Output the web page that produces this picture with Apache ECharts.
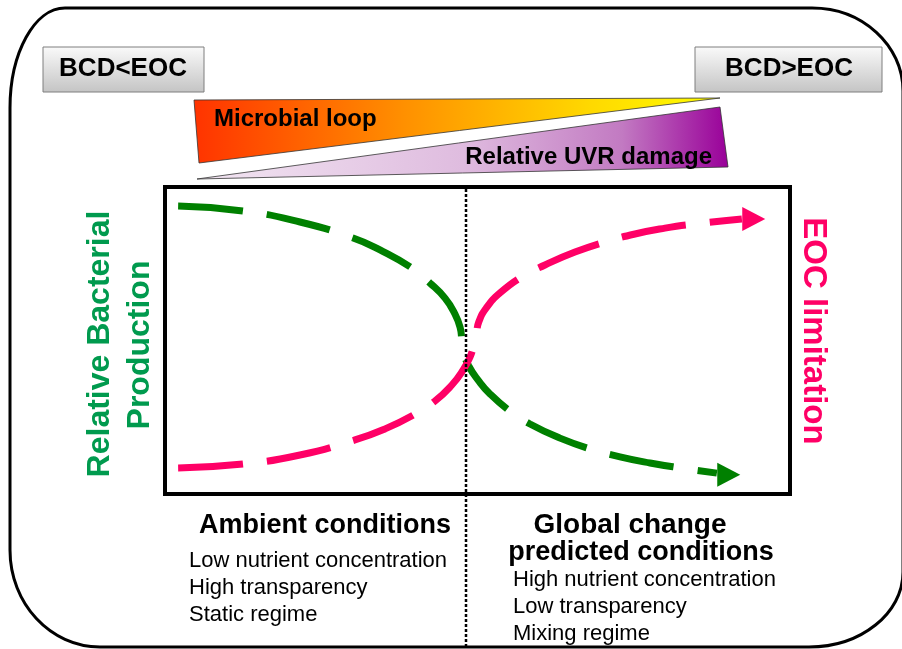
<!DOCTYPE html>
<html lang="en">
<head>
<meta charset="utf-8" />
<title>BCD vs EOC</title>
<script src="https://cdn.jsdelivr.net/npm/echarts@6/dist/echarts.min.js"></script>
<style>
  html, body { margin: 0; padding: 0; background: #fff; }
  #main { width: 902px; height: 649px; }
</style>
</head>
<body>
<div id="main"></div>
<script type="text/javascript">
// relative scale 0-100 on both axes
var bacterialProduction = [
  [2.1, 93.8], [12.5, 92.2], [21.6, 88.6], [30.1, 83.4], [34.4, 79.5],
  [39.5, 73.6], [42.4, 68.7], [44.8, 63.8], [46.4, 58.6], [47.2, 54.4],
  [47.5, 50.2], [47.8, 45.9], [48.6, 41.7], [50.1, 37.1], [52.0, 32.6],
  [55.2, 27.0], [58.4, 22.8], [63.2, 18.2], [68.0, 14.7], [72.8, 12.1],
  [77.6, 10.1], [82.4, 8.5], [88.3, 6.8]
];
var eocLimitation = [
  [2.1, 8.5], [12.5, 9.8], [21.6, 12.7], [30.4, 17.6], [35.2, 21.2],
  [39.7, 25.7], [43.2, 30.3], [45.9, 35.5], [47.7, 40.4], [48.8, 44.6],
  [49.4, 48.5], [49.8, 51.8], [50.2, 56.0], [51.4, 60.6], [53.6, 65.5],
  [57.3, 71.0], [60.8, 74.6], [65.6, 78.8], [70.4, 82.1], [75.2, 84.7],
  [80.0, 86.6], [84.5, 87.9], [92.3, 89.6]
];
var bacterialArrow = [[90.2, 6.3]];
var eocArrow = [[94.2, 89.6]];

var boxLabels = ['BCD<EOC', 'BCD>EOC'];
var wedgeLabels = ['Microbial loop', 'Relative UVR damage'];
var leftTitle = 'Ambient conditions';
var leftItems = ['Low nutrient concentration', 'High transparency', 'Static regime'];
var rightTitle = ['Global change', 'predicted conditions'];
var rightItems = ['High nutrient concentration', 'Low transparency', 'Mixing regime'];
var yLabel = ['Relative Bacterial', 'Production'];
var y2Label = 'EOC limitation';

var GREEN = '#008000';
var PINK = '#ff0066';
var FONT = '"Liberation Sans", Arial, sans-serif';

var chart = echarts.init(document.getElementById('main'));

// quarter ellipse as a cubic bezier, start on the vertical side
function corner(sx, sy, ex, ey) {
  var k = 0.5523;
  return {
    type: 'bezierCurve', silent: true,
    shape: { x1: sx, y1: sy, x2: ex, y2: ey,
      cpx1: sx, cpy1: sy + k * (ey - sy),
      cpx2: ex + k * (sx - ex), cpy2: ey },
    style: { stroke: '#000', lineWidth: 3, fill: null }
  };
}
function seg(x1, y1, x2, y2) {
  return { type: 'line', silent: true, shape: { x1: x1, y1: y1, x2: x2, y2: y2 },
    style: { stroke: '#000', lineWidth: 3 } };
}
function label(txt, x, y, size, bold, align, color, rot) {
  return {
    type: 'text', x: x, y: y, rotation: rot || 0, z: 20,
    style: { text: txt, font: (bold ? 'bold ' : '') + size + 'px ' + FONT,
      fill: color || '#000', align: align || 'center', verticalAlign: 'middle' }
  };
}
var boxFill = { type: 'linear', x: 0, y: 0, x2: 0, y2: 1,
  colorStops: [{ offset: 0, color: '#fafafa' }, { offset: 1, color: '#c4c4c4' }] };

var graphics = [
  // outer rounded frame
  seg(65, 8, 812, 8), seg(903, 91, 903, 572), seg(100, 647, 809, 647), seg(10, 108, 10, 550),
  corner(10, 108, 65, 8), corner(903, 91, 812, 8), corner(903, 572, 809, 647), corner(10, 550, 100, 647),
  // BCD boxes
  { type: 'rect', shape: { x: 43, y: 47, width: 161, height: 45 },
    style: { fill: boxFill, stroke: '#7f7f7f', lineWidth: 1 } },
  { type: 'rect', shape: { x: 695, y: 47, width: 187, height: 45 },
    style: { fill: boxFill, stroke: '#7f7f7f', lineWidth: 1 } },
  label(boxLabels[0], 123, 69, 26, true),
  label(boxLabels[1], 789, 69, 26, true),
  // wedges
  { type: 'polygon', shape: { points: [[194, 100], [720, 98], [199, 163]] },
    style: { stroke: '#333', lineWidth: 0.8,
      fill: { type: 'linear', x: 0, y: 0, x2: 1, y2: 0, colorStops: [
        { offset: 0, color: '#ff3300' }, { offset: 0.4, color: '#ff9000' },
        { offset: 0.75, color: '#ffd800' }, { offset: 1, color: '#ffff00' }] } } },
  { type: 'polygon', shape: { points: [[197, 179], [720, 107], [728, 167]] },
    style: { stroke: '#333', lineWidth: 0.8,
      fill: { type: 'linear', x: 0, y: 0, x2: 1, y2: 0, colorStops: [
        { offset: 0, color: '#f2e6f2' }, { offset: 0.5, color: '#dfbcdf' },
        { offset: 0.8, color: '#c27ac2' }, { offset: 1, color: '#990099' }] } } },
  label(wedgeLabels[0], 214, 119, 24, true, 'left'),
  label(wedgeLabels[1], 712, 157, 24, true, 'right'),
  // dotted divider
  { type: 'line', z: 30, shape: { x1: 466, y1: 189, x2: 466, y2: 646 },
    style: { stroke: '#000', lineWidth: 2.5, lineDash: [3, 2] } },
  // axis titles
  label(yLabel[0], 100, 344, 32, true, 'center', '#009a4e', Math.PI / 2),
  label(yLabel[1], 140, 345, 32, true, 'center', '#009a4e', Math.PI / 2),
  label(y2Label, 813, 331, 33, true, 'center', PINK, -Math.PI / 2),
  // bottom captions
  label(leftTitle, 325, 526, 27, true),
  label(rightTitle[0], 630, 525, 28, true),
  label(rightTitle[1], 641, 553, 27, true)
];
leftItems.forEach(function (t, i) { graphics.push(label(t, 189, 561 + i * 27, 22, false, 'left')); });
rightItems.forEach(function (t, i) { graphics.push(label(t, 513, 580 + i * 27, 22, false, 'left')); });

chart.setOption({
  animation: false,
  backgroundColor: '#fff',
  grid: { left: 165, top: 187, right: 112, bottom: 155, show: true,
    borderColor: '#000', borderWidth: 4, backgroundColor: 'transparent' },
  xAxis: { type: 'value', min: 0, max: 100, show: false },
  yAxis: { type: 'value', min: 0, max: 100, show: false },
  series: [
    { type: 'line', data: bacterialProduction, smooth: 0.5, symbol: 'none', silent: true,
      lineStyle: { color: GREEN, width: 7, type: [65, 24], cap: 'butt' }, z: 2 },
    { type: 'line', data: eocLimitation, smooth: 0.5, symbol: 'none', silent: true,
      lineStyle: { color: PINK, width: 7, type: [65, 24], cap: 'butt' }, z: 3 },
    { type: 'scatter', data: bacterialArrow, symbol: 'triangle', symbolSize: [24, 23],
      symbolRotate: -90, silent: true, itemStyle: { color: GREEN, opacity: 1 }, z: 4 },
    { type: 'scatter', data: eocArrow, symbol: 'triangle', symbolSize: [24, 23],
      symbolRotate: -90, silent: true, itemStyle: { color: PINK, opacity: 1 }, z: 4 }
  ],
  graphic: graphics
});
</script>
</body>
</html>
